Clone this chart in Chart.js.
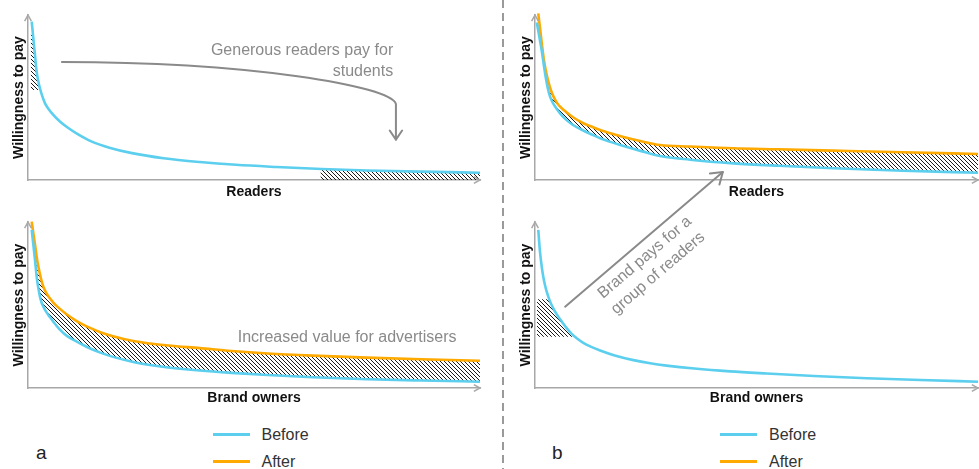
<!DOCTYPE html>
<html>
<head>
<meta charset="utf-8">
<script src="https://cdn.jsdelivr.net/npm/chart.js@4.4.0/dist/chart.umd.min.js"></script>
<style>
  html, body { margin: 0; padding: 0; background: #fff; width: 979px; height: 469px; overflow: hidden;
    font-family: "Liberation Sans", Arial, sans-serif; }
  .panel { position: absolute; }
  .panel canvas { display: block; }
  .divider { position: absolute; left: 502px; top: 0; width: 1.5px; height: 469px;
    background: repeating-linear-gradient(to bottom, #9a9a9a 0 8px, transparent 8px 13px); }
  .tag { position: absolute; font-size: 19px; line-height: 19px; color: #222; }
  .leg { position: absolute; height: 20px; display: flex; align-items: center; font-size: 16px; color: #333; }
  .leg .sw { display: inline-block; width: 37px; height: 3.5px; margin-right: 12px; }
</style>
</head>
<body>
<div class="divider"></div>
<div class="panel" style="left:0;top:0;width:495px;height:205px"><canvas id="cA1"></canvas></div>
<div class="panel" style="left:0;top:205px;width:495px;height:205px"><canvas id="cA2"></canvas></div>
<div class="panel" style="left:505px;top:0;width:474px;height:205px"><canvas id="cB1"></canvas></div>
<div class="panel" style="left:505px;top:150px;width:474px;height:260px"><canvas id="cB2"></canvas></div>
<div class="tag" style="left:36px;top:443px">a</div>
<div class="tag" style="left:552px;top:443px">b</div>
<div id="legendA"></div>
<div id="legendB"></div>
<script>
// ---------- data ----------
const seriesNames = ['Before', 'After'];
const xTitles = ['Readers', 'Brand owners'];
const yTitle = 'Willingness to pay';

// panel a, top (readers)
const xsA1 = [0.82, 1, 1.2, 1.5, 1.9, 2.3, 2.7, 3.2, 3.8, 4.5, 5.5, 7, 8.6, 11, 14, 18, 23, 30, 38, 46, 55, 65, 75, 87, 100];
const beforeA1 = [96, 91, 85.2, 77, 66, 59.5, 55, 50.5, 46.3, 43.2, 39.8, 35.6, 32.1, 27.8, 23.4, 19.6, 16.3, 13.2, 10.9, 9.2, 7.9, 6.7, 5.8, 5.05, 4.4];
const hatchA1TopX = [0.6, 1.1, 1.2, 1.5, 1.9, 2.3, 2.8];
const hatchA1TopHi = [88.9, 88.9, 85.2, 77, 66, 59.5, 54.5];
const hatchA1TopLo = [54.5, 54.5, 54.5, 54.5, 54.5, 54.5, 54.5];
const hatchA1EndX = [64.7, 75, 87, 100];
const hatchA1EndHi = [6.7, 5.8, 5.05, 4.4];
const hatchA1EndLo = [-3, -3, -3, -3];

// panel a, bottom (brand owners)
const xsA2 = [0.82, 1.2, 1.55, 1.92, 2.3, 2.65, 3, 3.4, 4, 4.8, 5.6, 7, 8.6, 10.5, 12.2, 14, 16, 19, 23.3, 27, 31, 38, 45, 53, 63, 75, 87, 100];
const beforeA2 = [95.2, 86, 77.1, 67, 60, 55, 51.5, 49, 46, 42.9, 40, 35.3, 31.4, 28.4, 25.9, 23.5, 21.3, 18.6, 15.7, 13.9, 12.4, 10.5, 9.1, 7.8, 6.5, 5.3, 4.5, 3.8];
const afterA2 = [100.2, 93, 86.5, 79, 73, 68.5, 64.5, 61, 57.5, 54.2, 51.5, 47.8, 44.3, 40.8, 38.2, 35.9, 33.6, 31, 28.3, 26.8, 25.6, 24, 22.3, 20.8, 19.5, 18.3, 17.3, 16.4];

// panel b, top (readers)
const xsB1 = [0.4, 0.74, 1, 1.3, 1.6, 2, 2.4, 2.9, 3.4, 4.1, 5, 6, 7, 8.5, 10.9, 13, 15, 17, 20, 24, 28.2, 35, 44.8, 55, 67.3, 83, 100];
const beforeB1 = [95.5, 90.5, 86.5, 82, 77, 69.5, 62.5, 55.5, 50.5, 46.5, 42.8, 39.3, 36.6, 33.5, 30, 27.4, 25, 23.1, 20.6, 17.5, 14.5, 12.3, 10.1, 8.6, 7.1, 5.6, 4.4];
const afterB1 = [null, 101, 95, 88.3, 81.3, 73, 66.8, 60.8, 56, 51, 46.6, 43.6, 41.3, 38.2, 34.4, 32.1, 30, 28.4, 26.1, 23.5, 21.2, 20.3, 19.2, 18.6, 17.8, 16.8, 15.8];

// panel b, bottom (brand owners)
const xsB2 = [0.74, 1.13, 1.5, 1.87, 2.25, 2.64, 3.3, 4.13, 5, 5.64, 7, 8.28, 9.5, 10.9, 12.7, 14.7, 18, 22.2, 26, 29.7, 36, 44, 52.3, 63, 74.9, 87, 100];
const beforeB2 = [95.2, 82, 73.5, 67, 62, 58, 52.8, 48, 44, 41.5, 36.5, 32.6, 29.8, 27.2, 24.8, 22.6, 19.6, 16.8, 14.9, 13.5, 11.7, 10, 8.7, 7.2, 5.9, 4.8, 3.8];
const hatchB2X = [0.45, 3.2, 4.13, 5, 5.64, 7, 8.28, 9];
const hatchB2Hi = [53.4, 53.4, 48, 44, 41.5, 36.5, 32.6, 30.9];
const hatchB2Lo = [30.9, 30.9, 30.9, 30.9, 30.9, 30.9, 30.9, 30.9];

// annotations (data coordinates of their panel)
const noteA1Lines = ['Generous readers pay for', 'students'];
const noteA1Pos = [[80.8, 78.2], [80.8, 65.9]];
const arrowA1Path = [[7.5, 71.5], [49, 71.5], [80.3, 57], [81.4, 46.1], [81.4, 24.5]];
const noteA2Lines = ['Increased value for advertisers'];
const noteA2Pos = [[46.4, 30.2]];
const noteB2Lines = ['Brand pays for a', 'group of readers'];
const noteB2Pos = [[24.8, 78.6], [27.8, 69.1]];
const arrowB2Path = [[6.8, 49], [42.4, 130.1]];

// ---------- style ----------
const BLUE = '#5ccfee', ORANGE = '#ffaa00', AXIS = '#a8a8a8', NOTE = '#8a8a8a';
const FONT = '"Liberation Sans", Arial, sans-serif';
Chart.defaults.font.family = FONT;

function hatchPattern(ctx) {
  const t = document.createElement('canvas');
  t.width = 4; t.height = 4;
  const g = t.getContext('2d');
  g.strokeStyle = '#1a1a1a'; g.lineWidth = 1;
  g.beginPath();
  g.moveTo(-1, -1); g.lineTo(5, 5);
  g.moveTo(-1, 3); g.lineTo(1, 5);
  g.moveTo(3, -1); g.lineTo(5, 1);
  g.stroke();
  return ctx.createPattern(t, 'repeat');
}
const pts = (xs, ys) => xs.map((x, i) => ({ x, y: ys[i] }));
const curve = (label, xs, ys, color) => ({ label, data: pts(xs, ys), borderColor: color, borderWidth: 2.6,
  pointRadius: 0, fill: false, cubicInterpolationMode: 'monotone', clip: false });
const band = (xs, ys, fill, bg) => ({ label: '', data: pts(xs, ys), borderColor: 'rgba(0,0,0,0)', borderWidth: 1,
  pointRadius: 0, fill, backgroundColor: bg || 'rgba(0,0,0,0)', cubicInterpolationMode: 'monotone' });

function scales(xTitle, xH, yW, xPadB, yPadT) {
  const common = { type: 'linear', min: 0, max: 100, grid: { display: false, drawTicks: false },
    ticks: { display: false }, border: { display: true, color: AXIS, width: 1.5 } };
  return {
    x: Object.assign({}, common, { title: { display: true, text: xTitle, color: '#111',
      font: { size: 14, weight: 'bold' }, padding: { top: 0, bottom: xPadB } }, afterFit: s => { s.height = xH; } }),
    y: Object.assign({}, common, { title: { display: true, text: yTitle, color: '#111',
      font: { size: 14, weight: 'bold' }, padding: { top: yPadT, bottom: 0 } }, afterFit: s => { s.width = yW; } })
  };
}

function chevron(ctx, from, tip, len, ang) {
  const a = Math.atan2(tip[1] - from[1], tip[0] - from[0]);
  ctx.beginPath();
  ctx.moveTo(tip[0] - len * Math.cos(a - ang), tip[1] - len * Math.sin(a - ang));
  ctx.lineTo(tip[0], tip[1]);
  ctx.lineTo(tip[0] - len * Math.cos(a + ang), tip[1] - len * Math.sin(a + ang));
  ctx.stroke();
}

const axisArrows = {
  id: 'axisArrows',
  afterDraw(chart) {
    const { ctx, chartArea: a } = chart;
    ctx.save();
    ctx.strokeStyle = AXIS; ctx.lineWidth = 1.5;
    chevron(ctx, [a.left, a.top + 10], [a.left, a.top], 7, 0.5);
    chevron(ctx, [a.right - 10, a.bottom], [a.right, a.bottom], 7, 0.5);
    ctx.restore();
  }
};

function notesPlugin(id, lines, pos, path, opts) {
  return {
    id,
    afterDraw(chart) {
      const { ctx, scales: { x, y } } = chart;
      const px = p => [x.getPixelForValue(p[0]), y.getPixelForValue(p[1])];
      ctx.save();
      ctx.strokeStyle = NOTE; ctx.fillStyle = NOTE; ctx.lineWidth = 2; ctx.lineCap = 'round'; ctx.lineJoin = 'round';
      let rot = 0;
      if (path) {
        const P = path.map(px);
        ctx.beginPath();
        ctx.moveTo(P[0][0], P[0][1]);
        if (P.length === 5) {
          ctx.bezierCurveTo(P[1][0], P[1][1], P[2][0], P[2][1], P[3][0], P[3][1]);
          ctx.lineTo(P[4][0], P[4][1]);
        } else {
          ctx.lineTo(P[1][0], P[1][1]);
        }
        ctx.stroke();
        const n = P.length;
        chevron(ctx, P[n - 2], P[n - 1], opts.head, 0.6);
        if (opts.rotate) rot = Math.atan2(P[n - 1][1] - P[0][1], P[n - 1][0] - P[0][0]);
      }
      ctx.font = '16px ' + FONT;
      ctx.textAlign = opts.align; ctx.textBaseline = 'middle';
      lines.forEach((t, i) => {
        const p = px(pos[i]);
        ctx.save();
        ctx.translate(p[0], p[1]);
        ctx.rotate(rot);
        ctx.fillText(t, 0, 0);
        ctx.restore();
      });
      ctx.restore();
    }
  };
}

function makeChart(id, datasets, sc, padding, plugins) {
  const ctx = document.getElementById(id).getContext('2d');
  return new Chart(ctx, {
    type: 'line',
    data: { datasets: datasets(hatchPattern(ctx)) },
    options: {
      responsive: true, maintainAspectRatio: false, animation: false, devicePixelRatio: 1, events: [],
      layout: { padding },
      plugins: { legend: { display: false }, tooltip: { enabled: false }, filler: { drawTime: 'beforeDatasetsDraw' } },
      scales: sc
    },
    plugins: [axisArrows].concat(plugins)
  });
}

// panel a top
makeChart('cA1', pat => [
  curve(seriesNames[0], xsA1, beforeA1, BLUE),
  band(hatchA1TopX, hatchA1TopHi, '+1', pat),
  band(hatchA1TopX, hatchA1TopLo, false),
  band(hatchA1EndX, hatchA1EndHi, '+1', pat),
  band(hatchA1EndX, hatchA1EndLo, false)
], scales(xTitles[0], 25, 28, 4.8, 10.5), { left: 0, top: 15, right: 15, bottom: 0 },
  [notesPlugin('nA1', noteA1Lines, noteA1Pos, arrowA1Path, { head: 11, align: 'right' })]);

// panel a bottom
makeChart('cA2', pat => [
  curve(seriesNames[0], xsA2, beforeA2, BLUE),
  Object.assign(curve(seriesNames[1], xsA2, afterA2, ORANGE), { fill: '-1', backgroundColor: pat })
], scales(xTitles[1], 22, 28, 3.1, 10.5), { left: 0, top: 17, right: 15, bottom: 0 },
  [notesPlugin('nA2', noteA2Lines, noteA2Pos, null, { align: 'left' })]);

// panel b top
makeChart('cB1', pat => [
  curve(seriesNames[0], xsB1, beforeB1, BLUE),
  Object.assign(curve(seriesNames[1], xsB1, afterB1, ORANGE), { fill: '-1', backgroundColor: pat })
], scales(xTitles[0], 25, 30, 4.8, 12.6), { left: 0, top: 15, right: 1, bottom: 0 }, []);

// panel b bottom
makeChart('cB2', pat => [
  curve(seriesNames[0], xsB2, beforeB2, BLUE),
  band(hatchB2X, hatchB2Hi, '+1', pat),
  band(hatchB2X, hatchB2Lo, false)
], scales(xTitles[1], 22, 30, 3.1, 12.6), { left: 0, top: 72, right: 1, bottom: 0 },
  [notesPlugin('nB2', noteB2Lines, noteB2Pos, arrowB2Path, { head: 13, align: 'center', rotate: true })]);

// legends
const seriesColors = [BLUE, ORANGE];
function legend(elId, left) {
  const host = document.getElementById(elId);
  seriesNames.forEach((name, i) => {
    const d = document.createElement('div');
    d.className = 'leg';
    d.style.left = left + 'px';
    d.style.top = (424.5 + i * 27) + 'px';
    const sw = document.createElement('span');
    sw.className = 'sw'; sw.style.background = seriesColors[i];
    d.appendChild(sw);
    d.appendChild(document.createTextNode(name));
    host.appendChild(d);
  });
}
legend('legendA', 212.5);
legend('legendB', 720);
</script>
</body>
</html>
